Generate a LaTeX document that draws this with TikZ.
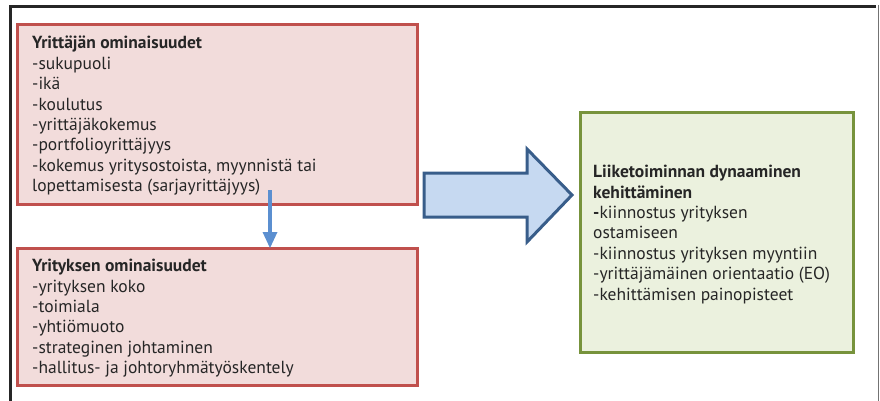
\documentclass[tikz,border=0pt]{standalone}
\usepackage{fontspec}
\setmainfont{PT Sans}
\definecolor{redfill}{HTML}{F2DCDB}
\definecolor{redline}{HTML}{C0504D}
\definecolor{greenfill}{HTML}{EBF1DE}
\definecolor{greenline}{HTML}{77933C}
\definecolor{bluefill}{HTML}{C6D9F1}
\definecolor{blueline}{HTML}{385D8A}
\definecolor{smallblue}{HTML}{5B8FD0}
\definecolor{txt}{HTML}{262626}
\begin{document}
\begin{tikzpicture}[x=1pt,y=-1pt,
  redbox/.style={draw=redline,fill=redfill,line width=3pt},
  greenbox/.style={draw=greenline,fill=greenfill,line width=3pt},
  boxtext/.style={anchor=north west,inner sep=0pt,align=left,text=txt,font=\fontsize{17.5}{20.4}\selectfont}]
\useasboundingbox (0,0) rectangle (880,401);
% outer frame
\draw[line width=3pt,black!85] (876,7) -- (10,7) -- (10,402);
\draw[line width=1pt,black!55] (878,5) -- (878,402);
% boxes
\draw[redbox] (17,25) rectangle (417,204);
\draw[redbox] (17,248) rectangle (417,385);
\draw[greenbox] (580,113) rectangle (853,352);
\node[boxtext] (t1) at (32,36) {\textbf{Yrittäjän ominaisuudet}\\-sukupuoli\\-ikä\\-koulutus\\-yrittäjäkokemus\\-portfolioyrittäjyys\\-kokemus yritysostoista, myynnistä tai\\lopettamisesta (sarjayrittäjyys)};
\node[boxtext] (t2) at (32,259) {\textbf{Yrityksen ominaisuudet}\\-yrityksen koko\\-toimiala\\-yhtiömuoto\\-strateginen johtaminen\\-hallitus- ja johtoryhmätyöskentely};
\node[boxtext] (t3) at (593,165) {\textbf{Liiketoiminnan dynaaminen}\\\textbf{kehittäminen}\\\textbf{-}kiinnostus yrityksen\\ostamiseen\\-kiinnostus yrityksen myyntiin\\-yrittäjämäinen orientaatio (EO)\\-kehittämisen painopisteet};
% small arrow
\coordinate (a1) at (270,190);
\coordinate (a2) at (270,248);
\draw[smallblue,line width=4pt] (a1) -- (270,233);
\fill[smallblue] (262.5,232) -- (277.5,232) -- (a2) -- cycle;
% big arrow
\draw[draw=blueline,fill=bluefill,line width=3pt,line join=miter]
  (424,173) -- (527,173) -- (527,149) -- (572,195) -- (527,242) -- (527,217) -- (424,217) -- cycle;
\end{tikzpicture}
\end{document}
